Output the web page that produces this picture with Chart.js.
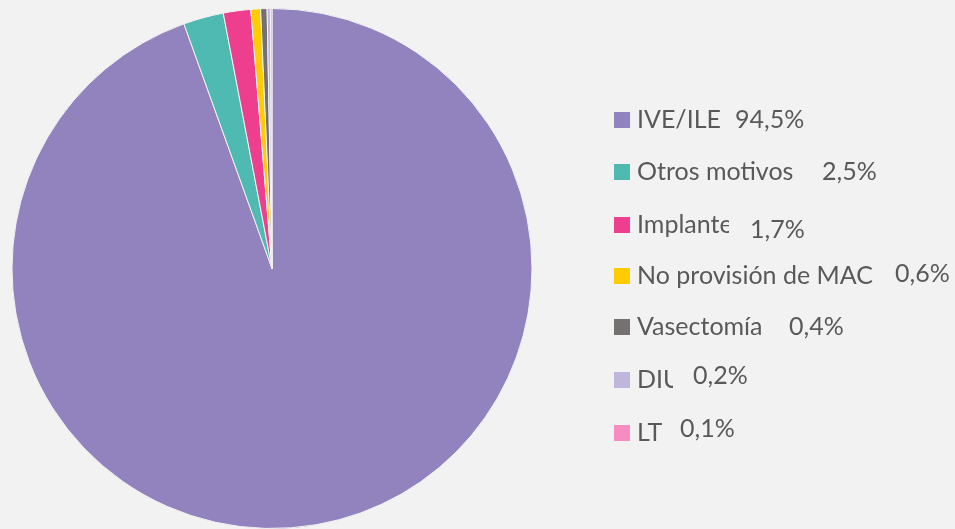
<!DOCTYPE html>
<html>
<head>
<meta charset="utf-8">
<script src="https://cdn.jsdelivr.net/npm/chart.js@4"></script>
<style>
  html, body { margin: 0; padding: 0; background: #f2f2f2; }
  #wrap { width: 955px; height: 529px; position: relative; }
</style>
</head>
<body>
<div id="wrap"><canvas id="myChart" width="955" height="529"></canvas></div>
<script>
const labels = ['IVE/ILE', 'Otros motivos', 'Implante', 'No provisión de MAC', 'Vasectomía', 'DIU', 'LT'];
const values = [94.5, 2.5, 1.7, 0.6, 0.4, 0.2, 0.1];
const colors = ['#9283bf', '#4fbab1', '#ee3f8f', '#ffcc00', '#767171', '#c0b6dc', '#f68cbf'];

// where each legend row and its percentage sit
const legendLayout = {
    x: 614, box: 16, textX: 637,
    baselines: [128, 180, 233, 284, 335, 388, 441],
    pctX: [735, 822, 750, 895, 789, 693, 680],
    pctBase: [128, 180, 238, 282, 335, 384, 437],
    clip: [null, null, 729, null, null, 673, null]
};

const fmt = v => v.toFixed(1).replace('.', ',') + '%';

const sideLegend = {
    id: 'sideLegend',
    afterDraw(chart) {
        const c = chart.ctx;
        const L = legendLayout;
        c.save();
        c.font = '25px Lato';
        c.textBaseline = 'alphabetic';
        labels.forEach((lab, i) => {
            const b = L.baselines[i];
            c.fillStyle = colors[i];
            c.fillRect(L.x, b - L.box, L.box, L.box);
            c.fillStyle = '#595959';
            c.save();
            if (L.clip[i]) {
                c.beginPath();
                c.rect(L.textX, b - 30, L.clip[i] - L.textX, 40);
                c.clip();
            }
            c.fillText(lab, L.textX, b);
            c.restore();
            c.fillText(fmt(values[i]), L.pctX[i], L.pctBase[i]);
        });
        c.restore();
    }
};

const ctx = document.getElementById('myChart').getContext('2d');
new Chart(ctx, {
    type: 'pie',
    data: {
        labels: labels,
        datasets: [{
            data: values,
            backgroundColor: colors,
            borderColor: '#f2f2f2',
            borderWidth: 1
        }]
    },
    options: {
        responsive: false,
        animation: false,
        layout: { padding: { left: 10, top: 8, right: 421, bottom: -2 } },
        plugins: {
            legend: { display: false },
            tooltip: { enabled: false }
        }
    },
    plugins: [sideLegend]
});
</script>
</body>
</html>
